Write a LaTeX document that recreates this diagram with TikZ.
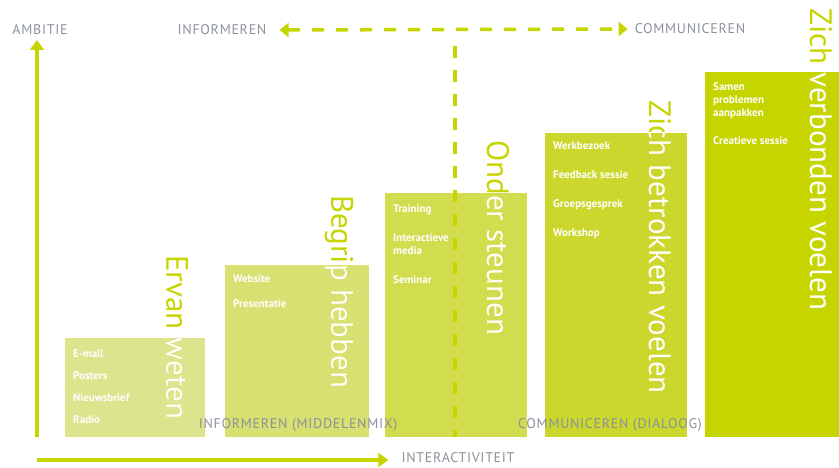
\documentclass[tikz,border=0pt]{standalone}
\usepackage{fontspec}
\setmainfont{PT Sans}
\usetikzlibrary{arrows.meta}

\definecolor{groen}{HTML}{C6D400}
\definecolor{stap1}{HTML}{DDE48E}
\definecolor{stap2}{HTML}{D7E070}
\definecolor{stap3}{HTML}{D1DC4E}
\definecolor{stap4}{HTML}{CBD72C}
\definecolor{stap5}{HTML}{C6D400}
\definecolor{grijs}{HTML}{8C929C}

\tikzset{
  titel/.style={rotate=-90,anchor=west,inner sep=0pt,font=\fontsize{31}{33}\selectfont},
  lijst/.style={anchor=north west,align=left,inner sep=0pt,text=white,font=\fontsize{11}{13}\selectfont\bfseries},
  kop/.style={inner sep=1pt,text=grijs,font=\fontsize{14}{16}\selectfont\addfontfeatures{LetterSpace=5}},
  pijl/.style={draw=groen,line width=3.5pt,-{Triangle[length=10pt,width=14pt]}},
  streep/.style={draw=groen,line width=3.5pt,dash pattern=on 12pt off 12pt},
}

\begin{document}
\begin{tikzpicture}[x=1pt,y=-1pt]
   \useasboundingbox (0,0) rectangle (839,468);

   % de vijf stappen
   \foreach \n/\l/\t/\r/\kl/\tx/\tt/\titel in {
      1/65/338/205/stap1/177/255/{Ervan weten},
      2/225/265/369/stap2/339/195/{Begrip hebben},
      3/385/193/527/stap3/498/140/{Onder steunen},
      4/545/133/687/stap4/660/100/{Zich betrokken voelen},
      5/705/72/839/stap5/821/8/{Zich verbonden voelen}}
   {
      \fill[\kl] (\l,\t) rectangle (\r,437);
      \node[titel,text=groen] (titel\n) at (\tx,\tt) {\titel};
      \begin{scope}
         \clip (\l,\t) rectangle (\r,437);
         \node[titel,text=white] at (\tx,\tt) {\titel};
      \end{scope}
   }

   \node[lijst] (middel1) at (73,349) {E-mail\\[9pt]Posters\\[9pt]Nieuwsbrief\\[9pt]Radio};
   \node[lijst] (middel2) at (233,274) {Website\\[12pt]Presentatie};
   \node[lijst] (middel3) at (393,204) {Training\\[16pt]Interactieve\\media\\[16pt]Seminar};
   \node[lijst] (middel4) at (553,142) {Werkbezoek\\[16pt]Feedback sessie\\[16pt]Groepsgesprek\\[16pt]Workshop};
   \node[lijst] (middel5) at (713,82) {Samen\\problemen\\aanpakken\\[15pt]Creatieve sessie};

   % assen
   \node[kop] (ambitie) at (40,30) {AMBITIE};
   \node[kop] (inter) at (458,458) {INTERACTIVITEIT};
   \coordinate (vonder) at (37,437);
   \coordinate (vboven) at (37,40);
   \coordinate (hlinks) at (37,460);
   \draw[pijl] (vonder) -- (vboven);
   \draw[pijl] (hlinks) -- ([xshift=-12pt,yshift=-2pt]inter.west);

   % informeren - communiceren
   \node[kop] (inf) at (222,30) {INFORMEREN};
   \node[kop] (com) at (690,29) {COMMUNICEREN};
   \draw[streep,{Triangle[length=9pt,width=14pt]}-{Triangle[length=9pt,width=14pt]}]
      ([xshift=12pt]inf.east) -- ([xshift=-6pt]com.west);
   \coordinate (splits) at (455,46);
   \coordinate (bodem) at (455,437);
   \draw[streep] (splits) -- (bodem);

   \node[kop] (middelenmix) at (298,425) {INFORMEREN (MIDDELENMIX)};
   \node[kop] (dialoog) at (610,425) {COMMUNICEREN (DIALOOG)};
\end{tikzpicture}
\end{document}
